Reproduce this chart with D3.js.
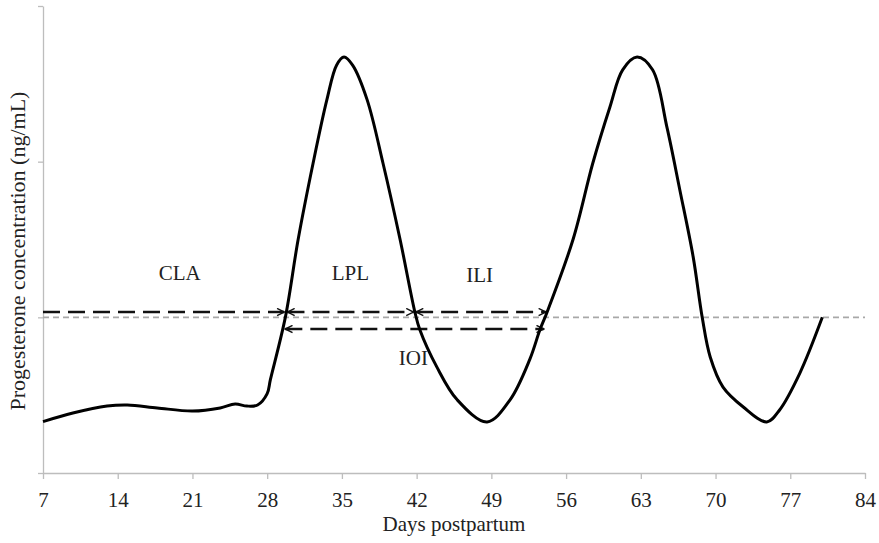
<!DOCTYPE html>
<html>
<head>
<meta charset="utf-8">
<script src="https://cdn.jsdelivr.net/npm/d3@7"></script>
<style>
  body { margin: 0; background: #fff; }
  text { font-family: "Liberation Serif", "Times New Roman", serif; fill: #222; }
</style>
</head>
<body>
<div id="chart"></div>
<script>
'use strict';

// progesterone curve
const days = [7, 9.8, 13, 14.9, 17.7, 21, 23.6, 25, 26.1, 27.1, 28, 28.3, 29.7, 30.9, 32.3, 33.6, 34.5, 35.2,
  36, 37.35, 38.85, 40.45, 41.85, 42.3, 43.9, 45.8, 48.6, 50.75, 52.6, 53.55, 54.2, 56.65, 58.5, 60.1, 61.3,
  62.65, 64.1, 65.45, 66.65, 67.9, 68.75, 69.5, 70.7, 72.6, 74.8, 76, 77.9, 80];
const progesterone = [0.33, 0.385, 0.43, 0.437, 0.418, 0.398, 0.418, 0.443, 0.43, 0.437, 0.51, 0.6, 1.0, 1.5,
  1.99, 2.4, 2.62, 2.672, 2.62, 2.4, 1.99, 1.5, 1.03, 0.92, 0.68, 0.47, 0.328, 0.47, 0.73, 0.92, 1.03, 1.5,
  1.99, 2.35, 2.59, 2.672, 2.59, 2.22, 1.82, 1.39, 1.0, 0.745, 0.552, 0.424, 0.328, 0.405, 0.642, 1.0];

const xTicks = [7, 14, 21, 28, 35, 42, 49, 56, 63, 70, 77, 84];
const yTicks = [0, 1, 2, 3];
const threshold = 1;

// interval arrows: label, start day, end day, level, arrow at start
const intervalNames = ["CLA", "LPL", "ILI", "IOI"];
const intervalStart = [7, 29.9, 41.95, 29.7];
const intervalEnd = [29.6, 41.7, 54.1, 53.9];
const intervalLevel = [1.034, 1.034, 1.034, 0.925];
const intervalBothEnds = [false, true, true, true];
const labelDay = [19.8, 35.8, 47.9, 41.7];
const labelLevel = [1.24, 1.24, 1.23, 0.694];

const msm = {
  width: 879,
  height: 543,
  left: 43,
  right: 865,
  top: 6,
  bottom: 473
};

const svg = d3.select('#chart')
  .append('svg')
  .attr('width', msm.width)
  .attr('height', msm.height);

const xScale = d3.scaleLinear().domain([7, 84]).range([msm.left, msm.right]);
const yScale = d3.scaleLinear().domain([0, 3]).range([msm.bottom, msm.top]);

// axes
const xAxis = d3.axisBottom(xScale).tickValues(xTicks).tickSize(6).tickPadding(13).tickSizeOuter(0);
const gx = svg.append('g')
  .attr('transform', 'translate(0,' + msm.bottom + ')')
  .call(xAxis);
gx.selectAll('line, path').attr('stroke', '#bdbdbd').attr('stroke-width', 1.3);
gx.selectAll('text').style('font-size', '21px').attr('fill', '#222')
  .style('font-family', '"Liberation Serif", serif');

const yAxis = d3.axisLeft(yScale).tickValues(yTicks).tickSize(5).tickFormat('').tickSizeOuter(0);
const gy = svg.append('g')
  .attr('transform', 'translate(' + msm.left + ',0)')
  .call(yAxis);
gy.selectAll('line, path').attr('stroke', '#bdbdbd').attr('stroke-width', 1.3);

// threshold line
svg.append('line')
  .attr('x1', xScale(7)).attr('x2', xScale(84))
  .attr('y1', yScale(threshold)).attr('y2', yScale(threshold))
  .attr('stroke', '#a8a8a8')
  .attr('stroke-width', 1.6)
  .attr('stroke-dasharray', '6,4');

// arrow markers
const defs = svg.append('defs');
defs.append('marker')
  .attr('id', 'arrowEnd')
  .attr('viewBox', '0 0 10 10')
  .attr('refX', 9).attr('refY', 5)
  .attr('markerWidth', 9).attr('markerHeight', 9)
  .attr('markerUnits', 'userSpaceOnUse')
  .attr('orient', 'auto')
  .append('path')
  .attr('d', 'M1,1 L9,5 L1,9')
  .attr('fill', 'none')
  .attr('stroke', '#111')
  .attr('stroke-width', 1.6);
defs.append('marker')
  .attr('id', 'arrowStart')
  .attr('viewBox', '0 0 10 10')
  .attr('refX', 1).attr('refY', 5)
  .attr('markerWidth', 9).attr('markerHeight', 9)
  .attr('markerUnits', 'userSpaceOnUse')
  .attr('orient', 'auto')
  .append('path')
  .attr('d', 'M9,1 L1,5 L9,9')
  .attr('fill', 'none')
  .attr('stroke', '#111')
  .attr('stroke-width', 1.6);

intervalNames.forEach((name, i) => {
  const line = svg.append('line')
    .attr('x1', xScale(intervalStart[i])).attr('x2', xScale(intervalEnd[i]))
    .attr('y1', yScale(intervalLevel[i])).attr('y2', yScale(intervalLevel[i]))
    .attr('stroke', '#111')
    .attr('stroke-width', 2.4)
    .attr('stroke-dasharray', '17,8')
    .attr('marker-end', 'url(#arrowEnd)');
  if (intervalBothEnds[i]) line.attr('marker-start', 'url(#arrowStart)');

  svg.append('text')
    .attr('x', xScale(labelDay[i]))
    .attr('y', yScale(labelLevel[i]))
    .attr('text-anchor', 'middle')
    .style('font-size', '21px')
    .text(name);
});

// progesterone curve
const points = days.map((d, i) => [d, progesterone[i]]);
svg.append('path')
  .datum(points)
  .attr('fill', 'none')
  .attr('stroke', '#000')
  .attr('stroke-width', 3)
  .attr('stroke-linejoin', 'round')
  .attr('d', d3.line()
    .x(d => xScale(d[0]))
    .y(d => yScale(d[1]))
    .curve(d3.curveCatmullRom.alpha(0.5)));

// axis titles
svg.append('text')
  .attr('x', (msm.left + msm.right) / 2)
  .attr('y', 531)
  .attr('text-anchor', 'middle')
  .style('font-size', '21px')
  .text('Days postpartum');

svg.append('text')
  .attr('transform', 'translate(25,' + 251 + ') rotate(-90)')
  .attr('text-anchor', 'middle')
  .style('font-size', '22px')
  .text('Progesterone concentration (ng/mL)');
</script>
</body>
</html>
